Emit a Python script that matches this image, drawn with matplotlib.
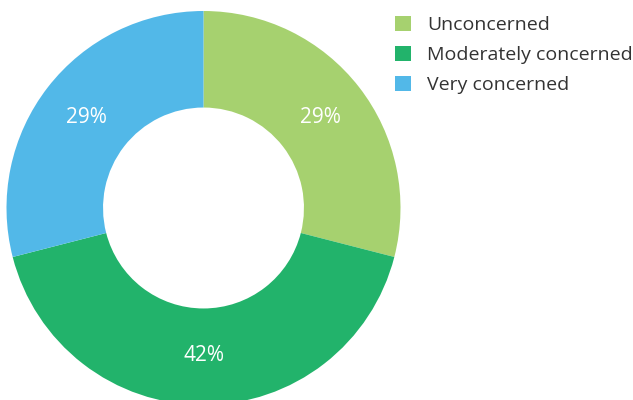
import matplotlib
matplotlib.use("Agg")
import matplotlib.pyplot as plt
from matplotlib.patches import Patch

categories = ["Unconcerned", "Moderately concerned", "Very concerned"]
values = [29, 42, 29]
colors = ["#a6d16f", "#22b36b", "#52b8e8"]

plt.rcParams['font.family'] = ['Open Sans', 'DejaVu Sans']

W, H = 633, 400
fig = plt.figure(figsize=(W/100, H/100), dpi=100)
ax = fig.add_axes([0, 0, 1, 1])
cx, cy, R = 203.5, 208.0, 197.0

wedges, texts, autotexts = ax.pie(values, colors=colors, startangle=90, counterclock=False,
       radius=1, wedgeprops=dict(width=0.49, linewidth=0),
       autopct=lambda p: f"{p:.0f}%", pctdistance=0.75,
       textprops=dict(color='white', fontsize=15))
ax.set_xlim(-cx/R, (W-cx)/R)
ax.set_ylim(-(H-cy)/R, cy/R)
ax.set_aspect('equal')
ax.axis('off')

handles = [Patch(facecolor=c, edgecolor='none') for c in colors]
leg = fig.legend(handles, categories, loc='upper left', bbox_to_anchor=(395/W, 1 - 15.5/H),
                 frameon=False, fontsize=14, handlelength=0.82, handleheight=0.82,
                 handletextpad=0.82, labelspacing=0.61, borderpad=0, borderaxespad=0,
                 labelcolor='#333333')

fig.savefig("out.png", dpi=100)
